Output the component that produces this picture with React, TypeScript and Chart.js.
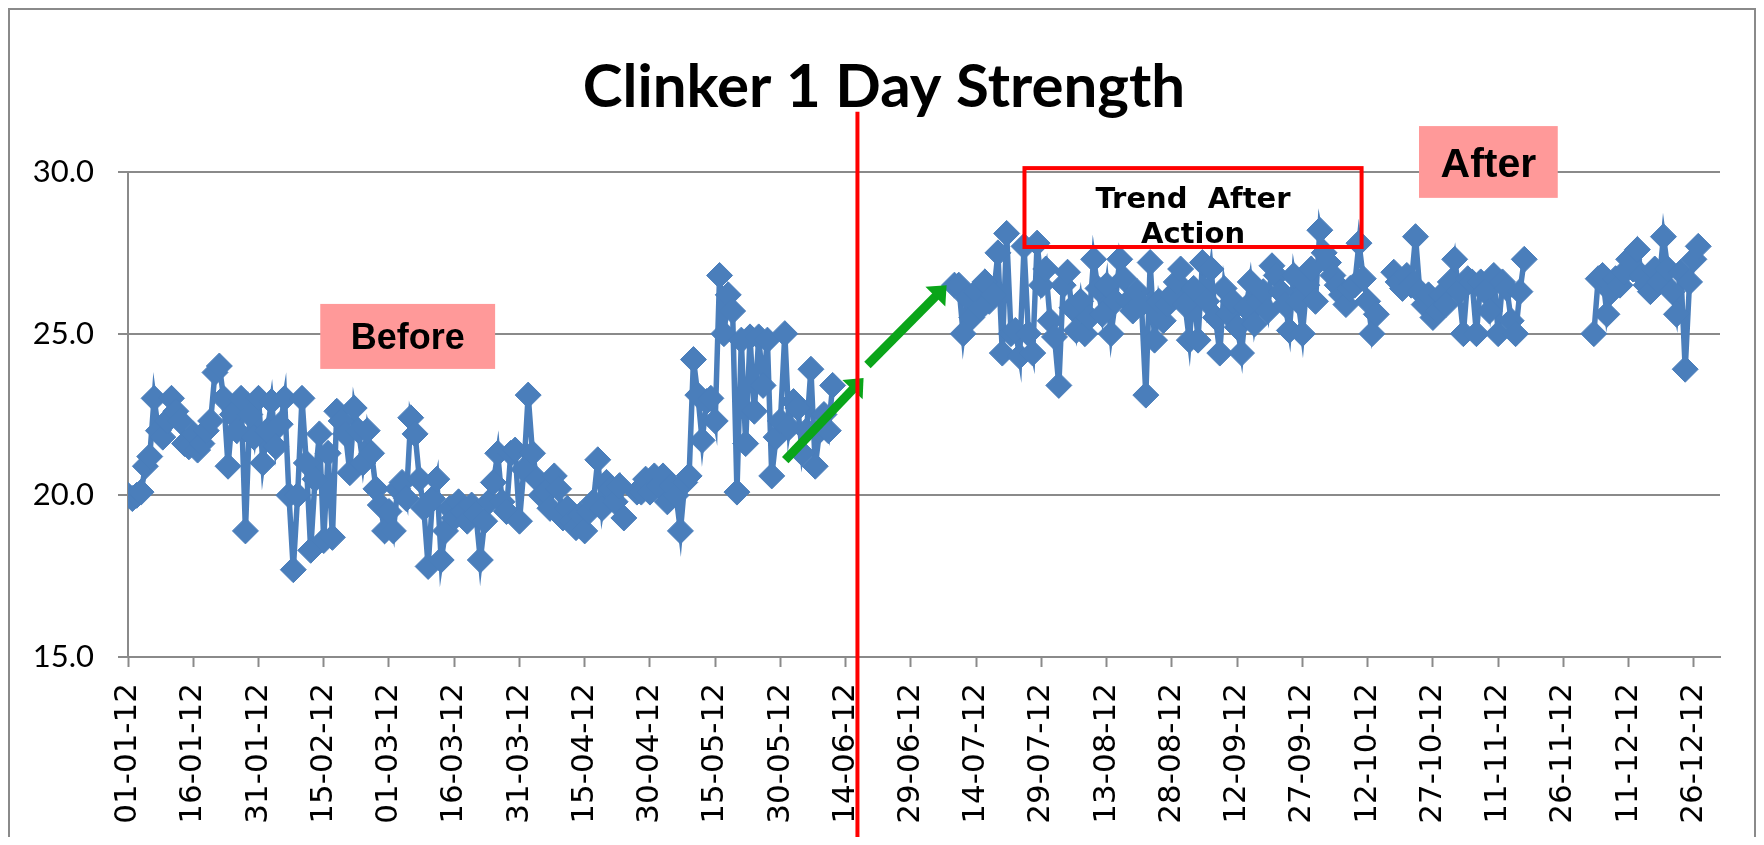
import { useEffect, useRef } from "react";
import { Chart, registerables } from "chart.js";

Chart.register(...registerables);

const TITLE = "Clinker 1 Day Strength";

// x-axis tick labels, one every 15 days starting 01-01-12
const tickLabels = [
  "01-01-12", "16-01-12", "31-01-12", "15-02-12", "01-03-12", "16-03-12", "31-03-12",
  "15-04-12", "30-04-12", "15-05-12", "30-05-12", "14-06-12", "29-06-12", "14-07-12",
  "29-07-12", "13-08-12", "28-08-12", "12-09-12", "27-09-12", "12-10-12", "27-10-12",
  "11-11-12", "26-11-12", "11-12-12", "26-12-12",
];

// daily 1-day strength values (null = no test)
const jan = [20.0, 19.9, 20.0, 20.1, 20.9, 21.2, 23.0, 22.0, 21.8, 22.3, 23.0, 22.6, 22.3, 21.6, 21.5, 21.9, 21.4, 21.6, 22.0, 22.3, 23.8, 24.0, 23.0, 20.9, 22.5, 22.0, 23.0, 18.9, 22.5, 21.8, 23.0];
const feb = [21.0, 22.0, 22.9, 21.5, 22.2, 23.0, 20.0, 17.7, 20.0, 23.0, 21.0, 18.3, 20.5, 21.9, 18.6, 21.3, 18.7, 22.6, 22.3, 21.9, 20.7, 22.7, 22.0, 21.0, 22.0, 21.3, 20.2, 19.7, 18.9];
const mar = [19.5, 18.9, 20.2, 20.4, 19.9, 22.4, 21.9, 20.5, 19.6, 17.8, 19.9, 20.5, 18.0, 18.9, 19.6, 19.3, 19.8, 19.5, 19.2, 19.7, 19.4, 18.0, 19.2, 19.8, 20.4, 21.3, 19.8, 19.5, 21.3, 21.4, 19.2];
const apr = [20.8, 23.1, 21.3, 20.5, 20.0, 20.1, 19.6, 20.6, 20.2, 19.3, 19.6, 19.2, 19.0, 19.4, 18.9, 19.5, 19.8, 21.1, 19.6, 20.4, 20.2, 19.8, 20.3, 19.3, null, null, 20.1, 20.1, 20.5, 20.1];
const may = [20.6, 20.3, 20.6, 19.8, 20.3, 20.0, 18.9, 20.4, 20.6, 24.2, 23.1, 21.7, 22.9, 23.0, 22.3, 26.8, 25.0, 26.2, 25.7, 20.1, 24.8, 21.6, 24.9, 22.6, 24.9, 23.4, 24.8, 20.6, 21.8, 22.3, 25.0];
const jun = [22.1, 22.9, 22.7, 21.3, 22.0, 23.9, 20.9, 22.0, 22.5, 22.0, 23.4, null, null, null, null, null, null, null, null, null, null, null, null, null, null, null, null, null, null, null];
const jul = [null, null, null, null, null, null, null, null, 26.5, 26.5, 25.0, 26.1, 25.5, 26.3, 25.8, 26.6, 26.0, 26.2, 27.5, 24.4, 28.1, 25.0, 25.1, 24.3, 27.7, 25.0, 24.4, 27.8, 26.5, 27.0, 25.4];
const aug = [24.9, 23.4, 26.5, 26.9, 25.8, 25.1, 26.0, 25.0, 25.5, 27.3, 26.4, 25.6, 26.5, 25.0, 26.0, 27.3, 26.7, 26.0, 25.7, 26.3, 25.9, 23.1, 27.2, 24.8, 26.0, 25.4, 25.9, 26.2, 26.6, 27.0, 25.9];
const sep = [24.8, 26.4, 24.8, 27.2, 26.0, 27.0, 25.5, 24.4, 26.4, 25.6, 26.0, 25.2, 24.4, 25.8, 26.6, 25.3, 26.0, 26.3, 25.7, 27.1, 26.8, 26.3, 25.9, 25.1, 26.8, 26.0, 25.0, 26.5, 27.0, 26.0];
const oct = [28.2, 27.5, 27.2, 26.8, 26.5, 26.2, 25.9, 26.4, 26.5, 27.8, 26.7, 26.0, 25.0, 25.6, null, null, null, 26.9, 26.6, 26.4, 26.8, 26.5, 28.0, 26.3, 25.9, 26.2, 25.5, 25.7, 26.2, 25.9, 26.6];
const nov = [27.3, 26.3, 25.0, 26.7, 26.6, 25.0, 26.6, 26.3, 25.7, 26.8, 25.0, 26.6, 26.4, 25.4, 25.0, 26.3, 27.3, null, null, null, null, null, null, null, null, null, null, null, null, null];
const dec = [null, null, 25.0, 26.7, 26.8, 25.6, 26.3, 26.7, 26.5, 26.9, 27.3, 27.0, 27.6, 26.8, 26.5, 26.3, 27.0, 26.6, 28.0, 27.0, 26.3, 25.6, 26.9, 23.9, 26.6, 27.3, 27.7, null, null, null, null];

const dailyStrength: (number | null)[] = [jan, feb, mar, apr, may, jun, jul, aug, sep, oct, nov, dec].flat();

const Y_MIN = 15;
const Y_MAX = 30;
const X_MAX = 366;

const annotationPlugin = {
  id: "annotations",
  afterDraw(chart: any) {
    const { ctx, scales } = chart;
    const xs = scales.x;
    const ys = scales.y;
    const px = (d: number) => xs.getPixelForValue(d);
    const py = (v: number) => ys.getPixelForValue(v);
    ctx.save();

    // outer frame
    ctx.strokeStyle = "#8a8a8a";
    ctx.lineWidth = 2;
    ctx.strokeRect(1, 1, chart.width - 2, chart.height + 20);

    // title
    ctx.fillStyle = "#000";
    ctx.font = "bold 60px Lato, 'Open Sans', sans-serif";
    ctx.textAlign = "center";
    ctx.textBaseline = "alphabetic";
    ctx.fillText(TITLE, 876, 99);

    // "Before" label
    {
      const x0 = px(44.2), x1 = px(84.4), y0 = py(25.92), y1 = py(23.91);
      ctx.fillStyle = "#ff9999";
      ctx.fillRect(x0, y0, x1 - x0, y1 - y0);
      ctx.fillStyle = "#000";
      ctx.font = 'bold 36px "Liberation Sans", Arial, sans-serif';
      ctx.textAlign = "center";
      ctx.textBaseline = "alphabetic";
      ctx.fillText("Before", (x0 + x1) / 2, (y0 + y1) / 2 + 13);
    }
    // "After" label
    {
      const x0 = px(296.8), x1 = px(328.7), y0 = py(31.42), y1 = py(29.2);
      ctx.fillStyle = "#ff9999";
      ctx.fillRect(x0, y0, x1 - x0, y1 - y0);
      ctx.fillStyle = "#000";
      ctx.font = 'bold 41px "Liberation Sans", Arial, sans-serif';
      ctx.textAlign = "center";
      ctx.textBaseline = "alphabetic";
      ctx.fillText("After", (x0 + x1) / 2, (y0 + y1) / 2 + 15);
    }
    // "Trend After Action" box
    {
      const x0 = px(206.1), x1 = px(283.6), y0 = py(30.12), y1 = py(27.68);
      ctx.strokeStyle = "#ff0000";
      ctx.lineWidth = 4;
      ctx.strokeRect(x0, y0, x1 - x0, y1 - y0);
      ctx.fillStyle = "#000";
      ctx.font = 'bold 29px "DejaVu Sans", sans-serif';
      ctx.textAlign = "center";
      ctx.textBaseline = "alphabetic";
      const cx = (x0 + x1) / 2;
      ctx.fillText("Trend  After", cx, y0 + 39.5);
      ctx.fillText("Action", cx, y0 + 74.5);
    }

    // green arrows
    const arrow = (d0: number, v0: number, d1: number, v1: number) => {
      const sx = px(d0), sy = py(v0), ex = px(d1), ey = py(v1);
      const len = Math.hypot(ex - sx, ey - sy);
      const ux = (ex - sx) / len, uy = (ey - sy) / len;
      const L = 16, W = 14;
      const bx = ex - ux * L, by = ey - uy * L;
      ctx.strokeStyle = "#0aa519";
      ctx.fillStyle = "#0aa519";
      ctx.lineWidth = 9;
      ctx.lineCap = "butt";
      ctx.beginPath();
      ctx.moveTo(sx, sy);
      ctx.lineTo(bx + ux * 1, by + uy * 1);
      ctx.stroke();
      ctx.beginPath();
      ctx.moveTo(ex, ey);
      ctx.lineTo(bx - uy * W, by + ux * W);
      ctx.lineTo(bx + uy * W, by - ux * W);
      ctx.closePath();
      ctx.fill();
    };
    arrow(151.1, 21.09, 169.1, 23.63);
    arrow(170.0, 24.03, 188.2, 26.5);

    // red divider line
    {
      const x = px(167.7);
      ctx.strokeStyle = "#ff0000";
      ctx.lineWidth = 4;
      ctx.beginPath();
      ctx.moveTo(x, py(31.86));
      ctx.lineTo(x, chart.height);
      ctx.stroke();
    }
    ctx.restore();
  },
};

export default function App() {
  const ref = useRef<HTMLCanvasElement>(null);

  useEffect(() => {
    if (!ref.current) return;
    const chart = new Chart(ref.current, {
      type: "line",
      data: {
        datasets: [
          {
            label: "1 Day Strength",
            data: dailyStrength.map((v, i) => ({ x: i, y: v })) as any,
            borderColor: "#4a7ebb",
            backgroundColor: "#4a7ebb",
            borderWidth: 5.5,
            pointStyle: "rectRot",
            pointRadius: 13,
            pointBorderWidth: 1,
            pointBackgroundColor: "#4a7ebb",
            pointBorderColor: "#4a7ebb",
            spanGaps: false,
            tension: 0,
          },
        ],
      },
      options: {
        responsive: false,
        animation: false,
        layout: { padding: { left: 0, right: 36, top: 164, bottom: 0 } },
        plugins: {
          legend: { display: false },
          tooltip: { enabled: false },
          title: { display: false },
        },
        scales: {
          x: {
            type: "linear",
            min: 0,
            max: X_MAX,
            afterBuildTicks: (scale: any) => {
              scale.ticks = tickLabels.map((_, i) => ({ value: i * 15 }));
            },
            afterFit: (scale: any) => {
              scale.height = 180;
            },
            grid: {
              drawOnChartArea: false,
              drawTicks: true,
              tickLength: 10,
              tickColor: "#8a8a8a",
              tickWidth: 2,
            },
            border: { color: "#8a8a8a", width: 2 },
            ticks: {
              autoSkip: false,
              maxRotation: 90,
              minRotation: 90,
              padding: 16,
              color: "#000",
              font: { family: "'DejaVu Sans', Verdana, sans-serif", size: 31 },
              callback: (v: any) => tickLabels[Math.round(Number(v) / 15)] ?? "",
            },
          },
          y: {
            min: Y_MIN,
            max: Y_MAX,
            afterFit: (scale: any) => {
              scale.width = 120;
            },
            grid: {
              color: "#8a8a8a",
              lineWidth: 2,
              tickLength: 10,
              drawTicks: true,
            },
            border: { color: "#8a8a8a", width: 2 },
            ticks: {
              stepSize: 5,
              padding: 24,
              color: "#000",
              font: { family: "Lato, 'Open Sans', sans-serif", size: 31 },
              callback: (v: any) => Number(v).toFixed(1),
            },
          },
        },
      },
      plugins: [annotationPlugin],
    } as any);

    const fonts = (document as any).fonts;
    if (fonts && fonts.load) {
      Promise.all([
        fonts.load("bold 60px Lato"),
        fonts.load("31px Lato"),
        fonts.load('31px "DejaVu Sans"'),
        fonts.load('bold 29px "DejaVu Sans"'),
        fonts.load('bold 36px "Liberation Sans"'),
      ])
        .then(() => chart.update())
        .catch(() => {});
    }
    return () => chart.destroy();
  }, []);

  return <canvas ref={ref} width={1748} height={829} style={{ display: "block" }} />;
}
